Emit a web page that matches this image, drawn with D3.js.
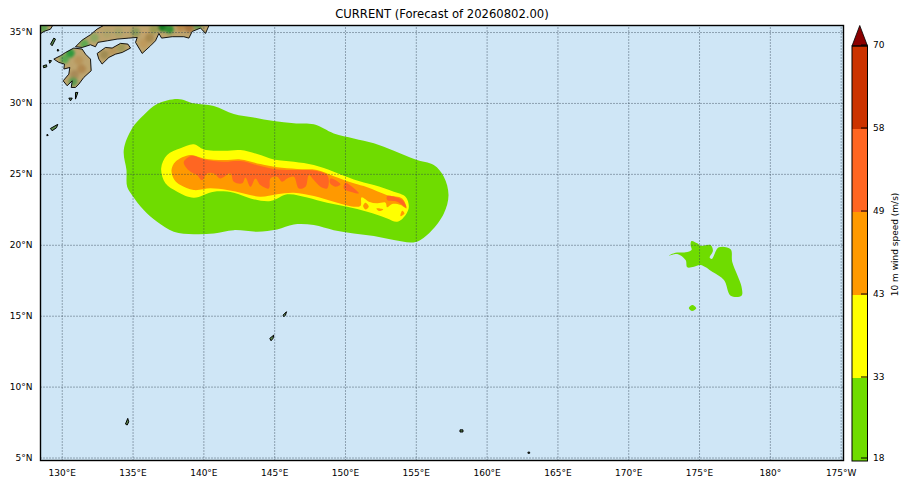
<!DOCTYPE html>
<html>
<head>
<meta charset="utf-8">
<script src="https://cdn.jsdelivr.net/npm/d3@7"></script>
<style>
body { margin: 0; background: #fff; }
text { font-family: "DejaVu Sans", sans-serif; fill: #000; }
</style>
</head>
<body>
<div id="chart"></div>
<script>
var lonTicks = [130, 135, 140, 145, 150, 155, 160, 165, 170, 175, 180, 185];
var latTicks = [5, 10, 15, 20, 25, 30, 35];
var levels = [18, 33, 43, 49, 58, 70];
var levelColors = ["#6fdc00", "#ffff00", "#ff9900", "#ff6622", "#cc3300"];
var overColor = "#8b0000";

// wind swaths, [lon, lat]
var wind18 = [[138.19,30.28],[139.32,29.97],[140.74,29.78],[142.15,29.22],[143.56,28.98],[144.97,28.72],[146.39,28.56],[147.80,28.49],[149.21,27.85],[150.62,27.50],[152.04,27.15],[153.45,26.63],[154.98,26.02],[156.27,25.62],[156.98,24.80],[157.31,23.50],[156.98,22.21],[156.04,20.92],[154.98,20.19],[153.45,20.33],[152.04,20.61],[150.62,20.80],[149.21,21.03],[147.80,21.39],[146.39,21.43],[145.21,21.08],[143.80,20.92],[142.15,21.03],[140.74,20.80],[139.32,20.75],[137.91,20.92],[136.73,21.62],[135.79,22.45],[134.97,23.50],[134.62,24.09],[134.57,25.27],[134.38,26.68],[134.97,28.21],[135.79,29.15],[136.73,29.92]];
var wind18East = [[174.47,20.26],[174.87,20.10],[175.11,19.93],[175.81,19.98],[175.98,19.58],[175.75,19.10],[175.90,19.00],[176.40,19.82],[177.23,19.68],[177.34,18.81],[177.70,17.87],[178.00,17.04],[178.00,16.41],[177.23,16.41],[176.76,17.51],[175.93,18.10],[175.11,18.57],[174.64,18.45],[174.17,18.41],[174.05,18.92],[173.46,19.35],[172.87,19.23],[173.34,19.44],[174.05,19.47],[174.47,19.63],[174.40,19.98]];
var wind18Small = [[174.52,15.75],[174.80,15.52],[174.52,15.33],[174.28,15.52]];
var wind33 = [[139.32,27.08],[140.03,26.72],[141.44,26.63],[142.62,26.68],[143.80,26.40],[144.97,26.02],[146.39,25.85],[147.80,25.62],[149.21,25.15],[150.62,24.61],[152.04,24.21],[153.45,23.74],[154.27,23.39],[154.51,22.68],[154.27,22.09],[153.68,21.62],[152.98,21.86],[151.57,22.33],[150.15,22.68],[148.74,22.96],[147.33,23.34],[145.92,23.56],[144.74,23.08],[143.33,23.27],[142.15,23.67],[140.74,23.74],[139.32,23.32],[138.15,23.74],[137.32,24.33],[137.02,25.39],[137.44,26.33],[138.38,26.80]];
var wind43 = [[139.09,26.33],[140.03,26.09],[141.44,25.97],[142.62,26.02],[144.03,25.69],[145.21,25.46],[146.62,25.34],[148.03,25.27],[149.21,24.84],[150.62,24.33],[151.57,24.05],[152.98,23.50],[154.04,23.27],[154.34,22.56],[153.92,22.80],[153.33,22.87],[152.98,22.64],[152.86,22.97],[152.27,22.92],[151.69,23.04],[151.17,23.34],[151.10,22.75],[150.62,22.68],[149.21,23.03],[147.80,23.43],[146.39,23.67],[145.21,23.57],[144.03,23.38],[142.85,23.62],[141.68,23.86],[140.50,23.98],[139.32,23.86],[138.38,24.21],[137.96,24.56],[137.75,25.27],[138.03,25.86]];
var wind43Blob1 = [[151.45,22.96],[151.68,22.68],[151.45,22.49],[151.28,22.73]];
var wind43Blob2 = [[152.22,22.56],[152.70,22.49],[152.39,22.38]];
var wind43Blob3 = [[154.04,22.40],[154.20,22.21],[153.92,22.02]];
var wind49 = [[138.62,25.86],[139.21,26.28],[140.03,26.02],[141.44,25.86],[142.62,25.90],[144.03,25.55],[145.21,25.31],[146.62,25.27],[148.03,25.20],[148.79,24.84],[148.74,23.97],[148.27,24.09],[147.80,24.56],[147.45,24.91],[147.21,24.09],[146.74,23.97],[146.39,24.80],[145.92,24.68],[145.56,24.45],[145.21,24.80],[144.74,24.68],[144.62,23.97],[144.03,24.21],[143.68,24.68],[143.33,24.09],[142.97,24.75],[142.74,24.33],[142.15,24.44],[141.91,25.03],[141.21,24.68],[140.74,25.03],[140.26,25.03],[139.91,24.56],[139.56,24.91],[139.09,25.15],[138.74,25.50]];
var wind49Blob1 = [[148.98,24.68],[149.68,24.26],[149.33,24.09],[148.93,24.37]];
var wind49Blob2 = [[150.03,24.37],[150.50,24.09],[150.98,23.62],[150.39,23.74],[149.92,23.97]];
var wind49Blob3 = [[152.98,23.43],[154.04,23.15],[154.32,22.63],[153.68,23.03],[152.98,23.15]];

// land, [lon, lat]
var honshu = [[130.97,33.96],[131.44,34.43],[132.03,34.81],[132.50,35.21],[132.97,35.47],[133.3,35.60],[140.39,35.60],[140.39,35.44],[140.15,34.90],[139.80,35.28],[139.21,35.04],[138.98,34.57],[138.62,34.67],[137.80,34.67],[137.05,34.57],[136.86,34.90],[136.62,34.38],[136.27,34.03],[135.68,33.49],[135.21,34.27],[135.33,34.62],[134.74,34.57],[133.91,34.50],[133.21,34.38],[132.55,34.27],[132.38,33.96],[132.03,34.10],[131.44,33.91]];
var shikoku = [[132.50,33.49],[133.09,33.91],[133.56,33.87],[134.15,34.20],[134.67,34.15],[134.86,33.87],[134.27,33.56],[133.80,33.44],[133.33,33.21],[132.85,32.74],[132.62,33.09]];
var kyushu = [[130.85,33.87],[131.44,33.80],[131.68,33.44],[132.03,33.09],[132.08,32.27],[131.56,31.80],[131.21,31.33],[130.97,31.09],[130.67,31.09],[130.74,31.56],[130.38,31.21],[130.10,31.56],[130.50,32.03],[130.57,32.50],[130.15,32.39],[130.19,32.74],[129.79,32.86],[129.44,33.09],[129.91,33.33],[130.27,33.56]];
var korea = [[128.3,35.6],[129.45,35.6],[129.2,35.2],[128.74,35.04],[128.3,34.74]];
var islands = [
  [[129.44,34.57],[129.56,34.50],[129.32,34.03],[129.21,34.15]],
  [[129.72,33.80],[129.80,33.68],[129.68,33.66]],
  [[128.69,32.62],[128.92,32.69],[128.95,32.55],[128.72,32.48]],
  [[129.10,33.00],[129.28,32.98],[129.15,32.80]],
  [[130.97,30.74],[131.14,30.74],[130.97,30.27]],
  [[130.50,30.34],[130.74,30.34],[130.62,30.15]],
  [[129.2,28.2],[129.72,28.49],[129.63,28.25],[129.32,28.04]],
  [[128.97,27.8],[129.05,27.72],[128.95,27.68]],
  [[145.63,15.04],[145.87,15.28],[145.80,15.04],[145.68,14.92]],
  [[144.69,13.40],[144.97,13.63],[144.92,13.40],[144.78,13.23]],
  [[134.5,7.36],[134.66,7.76],[134.73,7.52],[134.62,7.29]],
  [[158.12,6.95],[158.33,6.95],[158.33,6.80],[158.12,6.80]],
  [[162.92,5.38],[163.04,5.38],[163.04,5.30],[162.92,5.30]]
];
// relief patches on the main islands: lon, lat, colour
var relief = [
  [137.1,35.35,"#137a20"],[137.6,35.2,"#2e8f30"],[136.5,35.2,"#9a9a50"],[135.9,34.9,"#c4a46c"],
  [135.2,35.0,"#8a9a58"],[138.4,35.35,"#b8894a"],[139.0,35.3,"#a8743c"],[139.6,35.4,"#6f9a55"],
  [135.8,34.2,"#bf9a5c"],[136.2,34.6,"#a88a50"],[134.0,35.0,"#a8a468"],[133.2,34.9,"#b0a46a"],
  [132.3,34.6,"#8ea860"],[131.6,34.15,"#5ea850"],[130.6,33.5,"#2f9a3c"],[130.2,33.1,"#58a850"],
  [131.2,33.0,"#b8945a"],[131.4,32.4,"#b08850"],[130.9,32.0,"#a88a58"],[130.8,31.5,"#5b9a50"],
  [133.6,33.7,"#b8965a"],[134.2,33.9,"#a09a58"],[133.0,33.4,"#a08c52"],[128.7,35.3,"#5fa050"]
];

var W = 911, H = 487;
var svg = d3.select("#chart").append("svg").attr("width", W).attr("height", H);
svg.append("text").attr("x", 442).attr("y", 18).attr("text-anchor", "middle")
    .style("font-size", "11.6px").text("CURRENT (Forecast of 20260802.00)");

var x = d3.scaleLinear().domain([128.5, 185.2]).range([40.5, 843.5]);
var y = d3.scaleLinear().domain([4.79, 35.46]).range([460.5, 25.5]);

var defs = svg.append("defs");
defs.append("clipPath").attr("id", "plot").append("rect")
    .attr("x", 40.5).attr("y", 25.5).attr("width", 803).attr("height", 435);
defs.append("filter").attr("id", "soft").append("feGaussianBlur").attr("stdDeviation", 1.6);

var line = d3.line().x(function (d) { return x(d[0]); }).y(function (d) { return y(d[1]); })
    .curve(d3.curveLinearClosed);
var smooth = d3.line().x(function (d) { return x(d[0]); }).y(function (d) { return y(d[1]); })
    .curve(d3.curveCatmullRomClosed.alpha(0.5));

var map = svg.append("g").attr("clip-path", "url(#plot)");
map.append("rect").attr("x", 40.5).attr("y", 25.5).attr("width", 803).attr("height", 435).attr("fill", "#cfe6f6");

// land with relief
var mainLand = [honshu, shikoku, kyushu, korea];
var landClip = defs.append("clipPath").attr("id", "land");
landClip.selectAll("path").data(mainLand).enter().append("path").attr("d", line);
var land = map.append("g");
land.selectAll(".base").data(mainLand).enter().append("path").attr("d", line).attr("fill", "#bda46e");
var inner = land.append("g").attr("clip-path", "url(#land)").append("g").attr("filter", "url(#soft)");
inner.selectAll("circle").data(relief).enter().append("circle")
    .attr("cx", function (d) { return x(d[0]); })
    .attr("cy", function (d) { return y(d[1]); })
    .attr("r", 4.5).attr("fill", function (d) { return d[2]; });
land.selectAll(".coast").data(mainLand).enter().append("path").attr("d", line)
    .attr("fill", "none").attr("stroke", "#000").attr("stroke-width", 0.9);
map.selectAll(".island").data(islands).enter().append("path").attr("d", line)
    .attr("fill", "#5f8f50").attr("stroke", "#000").attr("stroke-width", 1);

// wind contours
var swaths = [
  [wind18, 0], [wind18East, 0], [wind18Small, 0], [wind33, 1], [wind43, 2],
  [wind43Blob1, 2], [wind43Blob2, 2], [wind43Blob3, 2], [wind49, 3],
  [wind49Blob1, 3], [wind49Blob2, 3], [wind49Blob3, 3]
];
map.selectAll(".swath").data(swaths).enter().append("path")
    .attr("d", function (d) { return smooth(d[0]); })
    .attr("fill", function (d) { return levelColors[d[1]]; });

// axes, ticks double as the dotted grid
function lonFormat(d) {
    if (d == 180) return "180°";
    return d > 180 ? (360 - d) + "°W" : d + "°E";
}
var xAxis = d3.axisBottom(x).tickValues(lonTicks).tickFormat(lonFormat).tickSize(-435).tickPadding(9);
var yAxis = d3.axisLeft(y).tickValues(latTicks).tickFormat(function (d) { return d + "°N"; }).tickSize(-803).tickPadding(8);
var gx = svg.append("g").attr("transform", "translate(0,460.5)").call(xAxis);
var gy = svg.append("g").attr("transform", "translate(40.5,0)").call(yAxis);
[gx, gy].forEach(function (g) {
    g.select(".domain").remove();
    g.selectAll("line").attr("stroke", "#2a3a4a").attr("stroke-width", 0.8).attr("stroke-dasharray", "1,2");
    g.selectAll("text").style("font-size", "9px").style("font-family", '"DejaVu Sans", sans-serif');
});
svg.append("rect").attr("x", 40.5).attr("y", 25.5).attr("width", 803).attr("height", 435)
    .attr("fill", "none").attr("stroke", "#000").attr("stroke-width", 1.4);

// colorbar
var cb = d3.scalePoint().domain(levels).range([461, 46]);
var cbar = svg.append("g");
levelColors.forEach(function (c, i) {
    cbar.append("rect").attr("x", 852).attr("width", 15.5)
        .attr("y", cb(levels[i + 1])).attr("height", cb(levels[i]) - cb(levels[i + 1]))
        .attr("fill", c);
});
cbar.append("path")
    .attr("d", "M852,46L859.75,25.5L867.5,46Z")
    .attr("fill", overColor).attr("stroke", "#000").attr("stroke-width", 0.8);
cbar.append("rect").attr("x", 852).attr("y", 46).attr("width", 15.5).attr("height", 415)
    .attr("fill", "none").attr("stroke", "#000").attr("stroke-width", 1);
levels.forEach(function (l, i) {
    var ly = i == 0 ? cb(l) - 3 : cb(l) - 1;
    cbar.append("line").attr("x1", 861).attr("x2", 867.5).attr("y1", ly).attr("y2", ly).attr("stroke", "#000");
    cbar.append("text").attr("x", 873).attr("y", ly).attr("dy", "0.36em").style("font-size", "9px").text(l);
});
svg.append("text").attr("transform", "translate(898,244.5) rotate(-90)").attr("text-anchor", "middle")
    .style("font-size", "9px").text("10 m wind speed (m/s)");
</script>
</body>
</html>
